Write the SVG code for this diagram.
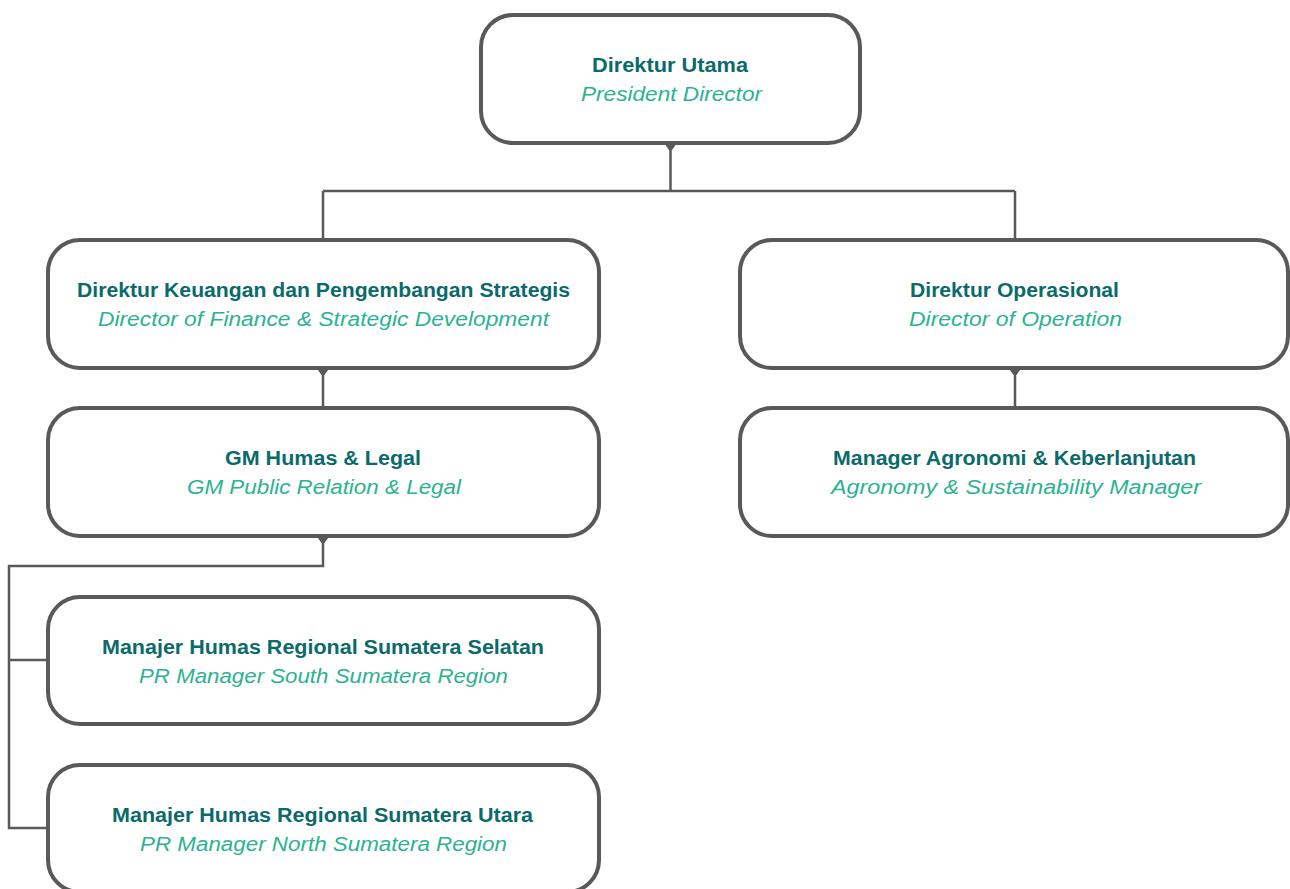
<svg xmlns="http://www.w3.org/2000/svg" width="1290" height="889" viewBox="0 0 1290 889">
<defs>
<style>
.box{fill:#fff;stroke:#595959;stroke-width:4}
.ln{fill:none;stroke:#595959;stroke-width:2.5}
.nt{fill:#595959}
.t1{font-family:"Liberation Sans",Arial,sans-serif;font-weight:bold;font-size:19.5px;fill:#0b6a6a;text-anchor:middle}
.t2{font-family:"Liberation Sans",Arial,sans-serif;font-style:italic;font-size:20px;fill:#2bb38f;text-anchor:middle}
</style>
</defs>
<rect width="1290" height="889" fill="#fff"/>
<g id="connectors">
<path class="ln" d="M670.5 143V191M323 191H1015M323 191V240M1015 191V240"/>
<path class="ln" d="M323 368V408M1015 368V408"/>
<path class="ln" d="M323 536V566H9V828H48M9 660H48"/>
<path class="nt" d="M664 143H677L672 150H669Z"/>
<path class="nt" d="M316.5 368H329.5L324.5 375H321.5Z"/>
<path class="nt" d="M1008.5 368H1021.5L1016.5 375H1013.5Z"/>
<path class="nt" d="M316.5 536H329.5L324.5 543H321.5Z"/>
</g>
<g id="n-direktur-utama">
<rect class="box" x="481" y="15" width="379" height="128" rx="32"/>
<text class="t1" x="670" y="72" textLength="156" lengthAdjust="spacingAndGlyphs">Direktur Utama</text>
<text class="t2" x="671.5" y="101" textLength="181" lengthAdjust="spacingAndGlyphs">President Director</text>
</g>
<g id="n-direktur-keuangan">
<rect class="box" x="48" y="240" width="551" height="128" rx="32"/>
<text class="t1" x="323.5" y="297" textLength="493" lengthAdjust="spacingAndGlyphs">Direktur Keuangan dan Pengembangan Strategis</text>
<text class="t2" x="323.5" y="326" textLength="451" lengthAdjust="spacingAndGlyphs">Director of Finance &amp; Strategic Development</text>
</g>
<g id="n-direktur-operasional">
<rect class="box" x="740" y="240" width="548" height="128" rx="32"/>
<text class="t1" x="1014.5" y="297" textLength="209" lengthAdjust="spacingAndGlyphs">Direktur Operasional</text>
<text class="t2" x="1015.5" y="326" textLength="213" lengthAdjust="spacingAndGlyphs">Director of Operation</text>
</g>
<g id="n-gm-humas">
<rect class="box" x="48" y="408" width="551" height="128" rx="32"/>
<text class="t1" x="323" y="465" textLength="196" lengthAdjust="spacingAndGlyphs">GM Humas &amp; Legal</text>
<text class="t2" x="324" y="494" textLength="274" lengthAdjust="spacingAndGlyphs">GM Public Relation &amp; Legal</text>
</g>
<g id="n-manager-agronomi">
<rect class="box" x="740" y="408" width="548" height="128" rx="32"/>
<text class="t1" x="1014.5" y="465" textLength="363" lengthAdjust="spacingAndGlyphs">Manager Agronomi &amp; Keberlanjutan</text>
<text class="t2" x="1016" y="494" textLength="370" lengthAdjust="spacingAndGlyphs">Agronomy &amp; Sustainability Manager</text>
</g>
<g id="n-manajer-selatan">
<rect class="box" x="48" y="597" width="551" height="127" rx="32"/>
<text class="t1" x="323" y="654" textLength="442" lengthAdjust="spacingAndGlyphs">Manajer Humas Regional Sumatera Selatan</text>
<text class="t2" x="323.5" y="683" textLength="369" lengthAdjust="spacingAndGlyphs">PR Manager South Sumatera Region</text>
</g>
<g id="n-manajer-utara">
<rect class="box" x="48" y="765" width="551" height="127" rx="32"/>
<text class="t1" x="322.5" y="822" textLength="421" lengthAdjust="spacingAndGlyphs">Manajer Humas Regional Sumatera Utara</text>
<text class="t2" x="323.5" y="851" textLength="367" lengthAdjust="spacingAndGlyphs">PR Manager North Sumatera Region</text>
</g>
</svg>
